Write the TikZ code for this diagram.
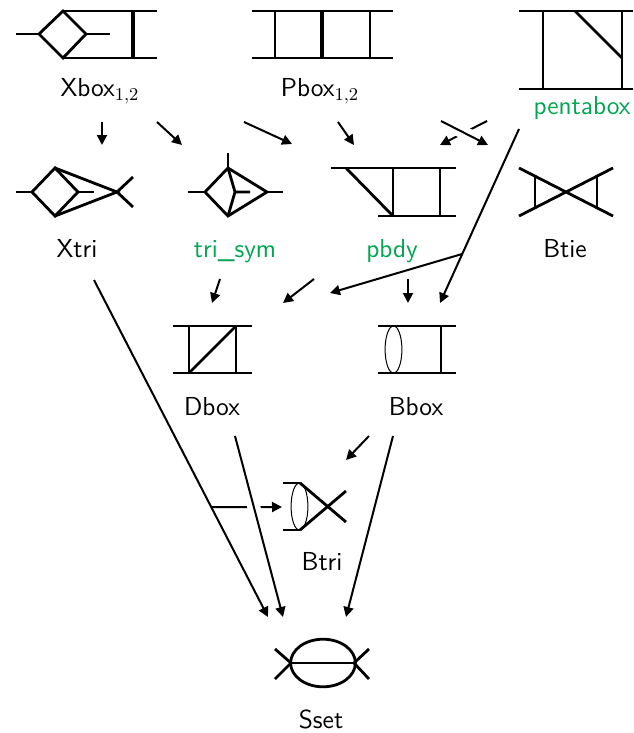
\documentclass[tikz,border=0pt]{standalone}
\usepackage{amsmath}
\usetikzlibrary{arrows.meta}
\definecolor{fgreen}{RGB}{0,166,80}

\begin{document}
\begin{tikzpicture}[x=0.5pt,y=-0.5pt,line width=1.4pt,
	lbl/.style={font=\sffamily\fontsize{13}{15}\selectfont,anchor=base,inner sep=0pt},
	link/.style={line width=1pt,-{Triangle[length=5pt,width=5pt]}},
	bridge/.style={preaction={draw=white,line width=6.5pt,-}},
	bar/.style={line width=2.2pt},
	thinline/.style={line width=0.5pt}]
	\useasboundingbox (0,0) rectangle (633,733);

	% first row
	\draw (16,34) -- (39,34) (86,34) -- (110,34);
	\draw (39,34) -- (63,11) -- (86,34) -- (63,58) -- cycle;
	\draw (63,11) -- (157,11) (63,58) -- (157,58);
	\draw[bar] (133,11) -- (133,58);
	\node[lbl] (xbox) at (100,97) {Xbox$_{1,2}$};

	\draw (252,11) -- (393,11) (252,58) -- (393,58);
	\draw (275,11) -- (275,58) (370,11) -- (370,58);
	\draw[bar] (322,11) -- (322,58);
	\node[lbl] (pbox) at (320,97) {Pbox$_{1,2}$};

	\draw (519,11) -- (633,11) (519,89) -- (633,89);
	\draw (543,11) -- (543,89) (622,11) -- (622,89);
	\draw (575,11) -- (622,58);
	\node[lbl,text=fgreen] (penta) at (582,115) {pentabox};

	% second row
	\draw (16,192) -- (32,192) (78,192) -- (94,192);
	\draw (32,192) -- (55,168) -- (78,192) -- (55,216) -- cycle;
	\draw (55,168) -- (117,192) -- (55,216);
	\draw (133,177) -- (117,192) -- (133,207);
	\node[lbl] (xtri) at (77,257) {Xtri};

	\draw (188,192) -- (205,192) (267,192) -- (283,192) (228,168) -- (228,153);
	\draw (205,192) -- (228,168) -- (267,192) -- (228,216) -- cycle;
	\draw (228,168) -- (235,192) -- (228,216) (235,192) -- (250,192);
	\node[lbl,text=fgreen] (trisym) at (235,257) {tri\_sym};

	\draw (331,168) -- (456,168) (378,216) -- (456,216);
	\draw (346,168) -- (393,216);
	\draw (393,168) -- (393,216) (440,168) -- (440,216);
	\node[lbl,text=fgreen] (pbdy) at (392,257) {pbdy};

	\draw (519,168) -- (613,216) (519,216) -- (613,168);
	\draw (535,177) -- (535,208) (597,177) -- (597,208);
	\node[lbl] (btie) at (565,257) {Btie};

	% third row
	\draw (173,326) -- (252,326) (173,373) -- (252,373);
	\draw (189,326) -- (189,373) (236,326) -- (236,373);
	\draw (189,373) -- (236,326);
	\node[lbl] (dbox) at (212,415) {Dbox};

	\draw (378,326) -- (456,326) (378,373) -- (456,373);
	\draw[thinline] (393.5,349.5) ellipse [x radius=4.2pt,y radius=11.8pt];
	\draw (441,326) -- (441,373);
	\node[lbl] (bbox) at (416,415) {Bbox};

	\draw (283,483) -- (300,483) (283,530) -- (300,530);
	\draw[thinline] (299.5,506.5) ellipse [x radius=4.2pt,y radius=11.8pt];
	\draw (300,483) -- (346,522) (300,530) -- (346,491);
	\node[lbl] (btri) at (322,570) {Btri};

	\draw (323,663) ellipse [x radius=16.2pt,y radius=11.9pt];
	\draw (291,663) -- (354,663);
	\draw (275,649) -- (291,663) -- (275,679) (369,649) -- (354,663) -- (369,679);
	\node[lbl] (sset) at (321,728) {Sset};

	% edge ends
	\coordinate (xbox-s1) at (102,122);
	\coordinate (xbox-s2) at (157,122);
	\coordinate (xbox-s3) at (244,122);
	\coordinate (pbox-s1) at (338,122);
	\coordinate (pbox-s2) at (441,121);
	\coordinate (penta-s1) at (487,121);
	\coordinate (penta-s2) at (519,129);
	\coordinate (xtri-n1) at (102,145);
	\coordinate (xtri-s1) at (94,280);
	\coordinate (trisym-n1) at (182,145);
	\coordinate (trisym-s1) at (220,279);
	\coordinate (pbdy-n1) at (292,144);
	\coordinate (pbdy-n2) at (354,145);
	\coordinate (pbdy-n3) at (440,145);
	\coordinate (pbdy-s1) at (314,279);
	\coordinate (pbdy-s2) at (408,279);
	\coordinate (btie-n1) at (488,145);
	\coordinate (dbox-n1) at (212,303);
	\coordinate (dbox-n2) at (283,303);
	\coordinate (dbox-n3) at (330,293);
	\coordinate (dbox-s1) at (235,436);
	\coordinate (bbox-n1) at (408,303);
	\coordinate (bbox-n2) at (440,303);
	\coordinate (bbox-s1) at (369,436);
	\coordinate (bbox-s2) at (393,436);
	\coordinate (btri-n1) at (346,460);
	\coordinate (btri-w1) at (282,507);
	\coordinate (sset-n1) at (268,617);
	\coordinate (sset-n2) at (283,617);
	\coordinate (sset-n3) at (346,617);

	\draw[link] (xbox-s1) -- (xtri-n1);
	\draw[link] (xbox-s2) -- (trisym-n1);
	\draw[link] (xbox-s3) -- (pbdy-n1);
	\draw[link] (pbox-s1) -- (pbdy-n2);
	\draw[link] (penta-s1) -- (pbdy-n3);
	\draw[link,bridge] (pbox-s2) -- (btie-n1);
	\draw[link] (penta-s2) -- coordinate[pos=0.718] (penta-split) (bbox-n2);
	\draw[link] (penta-split) -- (dbox-n3);
	\draw[link] (trisym-s1) -- (dbox-n1);
	\draw[link] (pbdy-s1) -- (dbox-n2);
	\draw[link] (pbdy-s2) -- (bbox-n1);
	\draw[link] (bbox-s1) -- (btri-n1);
	\draw[link] (bbox-s2) -- (sset-n3);
	\draw[link] (xtri-s1) -- coordinate[pos=0.674] (xtri-split) (sset-n1);
	\draw[link] (xtri-split) -- (btri-w1);
	\draw[link,bridge] (dbox-s1) -- (sset-n2);
\end{tikzpicture}
\end{document}
